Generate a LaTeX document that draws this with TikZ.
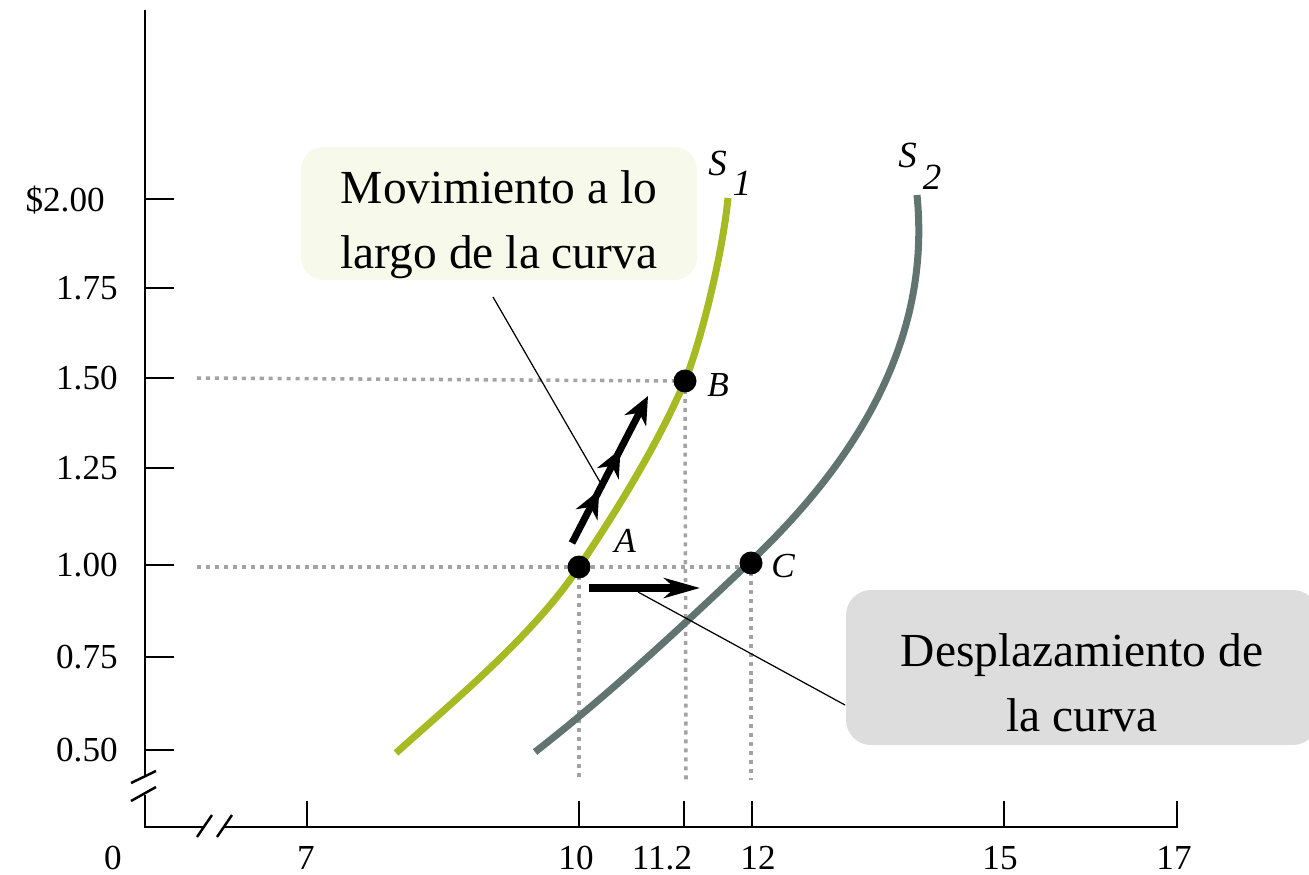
\documentclass[tikz,border=0pt]{standalone}
\usepackage{fontspec}
\setmainfont{Liberation Serif}
\usepackage{xcolor}
\usetikzlibrary{arrows.meta,decorations.markings}
\definecolor{sone}{RGB}{166,186,36}
\definecolor{stwo}{RGB}{98,116,112}
\definecolor{movfill}{RGB}{247,249,234}
\definecolor{despfill}{RGB}{221,221,221}
\definecolor{guidegray}{RGB}{163,163,163}

\begin{document}
\begin{tikzpicture}[
x = 0.02cm, y = -0.02cm,
axisline/.style={line width = 1.4pt, draw = black},
ticklab/.style={inner sep = 0, font = \fontsize{20}{24}\selectfont},
guide/.style={draw = guidegray, line width = 2pt, dash pattern = on 2.3pt off 2.8pt},
supone/.style={line width = 4pt, draw = sone},
suptwo/.style={line width = 4pt, draw = stwo},
ptdot/.style={circle, fill = black, inner sep = 0, minimum size = 0.46cm},
ptlab/.style={inner sep = 0, font = \fontsize{20}{24}\selectfont\itshape},
slab/.style={inner sep = 0, anchor = base west, font = \fontsize{21}{24}\selectfont\itshape},
boxtext/.style={inner sep = 0, anchor = north, align = center, font = \fontsize{27}{37}\selectfont},
movrect/.style={rectangle, fill = movfill, rounded corners = 0.45cm, minimum width = 7.92cm, minimum height = 2.66cm},
desprect/.style={rectangle, fill = despfill, rounded corners = 0.5cm, minimum width = 9.44cm, minimum height = 3.1cm},
leader/.style={line width = 0.7pt, draw = black},
shiftarr/.style={-{Stealth[length = 0.72cm, width = 0.4cm, inset = 0.22cm]}, line width = 4pt},
movearr/.style={-{Stealth[length = 0.55cm, width = 0.48cm, inset = 0.17cm]}, line width = 4pt,
  postaction = {decorate}, decoration = {markings,
  mark = at position 0.36 with {\arrow{Stealth[length = 0.55cm, width = 0.48cm, inset = 0.17cm]}},
  mark = at position 0.64 with {\arrow{Stealth[length = 0.55cm, width = 0.48cm, inset = 0.17cm]}}}}]

\useasboundingbox (0,0) rectangle (1309,875);

\node[movrect] (movbox) at (499,213.5) {};
\node[desprect] (despbox) at (1082,667.5) {};
\node[boxtext] (movtext) at (499,170) {Movimiento a lo\\largo de la curva};
\node[boxtext] (desptext) at (1082,633) {Desplazamiento de\\la curva};

\coordinate (pA) at (579,567);
\coordinate (pB) at (685,381);
\coordinate (pC) at (751,563);
\draw[guide] (197,378) -- (pB);
\draw[guide] (197,567) -- (751,567);
\draw[guide] (pA) -- (579,780);
\draw[guide] (pB) -- (686,780);
\draw[guide] (pC) -- (751,780);

\draw[supone] (396,753) .. controls (456,699) and (534,634.5) .. (pA)
  .. controls (614,514.5) and (655,450) .. (pB)
  .. controls (700,343.5) and (722,258) .. (728,198);
\draw[suptwo] (535,752) .. controls (607,696) and (679,629.4) .. (751,561)
  .. controls (851,466) and (932,345) .. (917,195);

\coordinate (movtail) at (493,297);
\coordinate (movtip) at (600,482);
\draw[leader] (movtail) -- (movtip);
\coordinate (desptail) at (638,592);
\coordinate (despto) at (845,705);
\draw[leader] (desptail) -- (despto);

\coordinate (sh0) at (589,588);
\coordinate (sh1) at (700,588);
\draw[shiftarr] (sh0) -- (sh1);
\coordinate (mv0) at (572,543);
\coordinate (mv1) at (648,396);
\draw[movearr] (mv0) -- (mv1);

\node[ptdot] (A) at (pA) {};
\node[ptdot] (B) at (pB) {};
\node[ptdot] (C) at (pC) {};
\node[ptlab] (labA) at (625,541) {A};
\node[ptlab] (labB) at (718,385) {B};
\node[ptlab] (labC) at (783,566) {C};
\node[slab] (S1) at (708,175) {S\hspace{3.5pt}\raisebox{-11.5pt}{1}};
\node[slab] (S2) at (898,168) {S\hspace{3.5pt}\raisebox{-12.5pt}{2}};

\draw[axisline] (145,10) -- (145,776);
\draw[axisline] (145,795) -- (145,827) -- (204,827);
\draw[axisline] (224,827) -- (1177,827) -- (1177,801);
\draw[axisline] (131,783) -- (156,771);
\draw[axisline] (131,801) -- (156,787);
\draw[axisline] (197,837) -- (212,815);
\draw[axisline] (217,837) -- (232,815);

\foreach \yy/\lab in {288/1.75, 378/1.50, 468/1.25, 565/1.00, 657/0.75, 750/0.50}
{\draw[axisline] (145,\yy) -- (174,\yy);
\node[ticklab, anchor = east] (y\yy) at (118,\yy) {\lab};}
\draw[axisline] (145,199) -- (174,199);
\node[ticklab, anchor = east] (y199) at (105,200) {\$2.00};

\node[ticklab, anchor = north] (x0) at (113,846) {0};
\foreach \xx/\xl/\lab in {307/306/7, 579/576/10, 684/662/11.2, 752/758/12, 1004/1000/15, 1177/1174/17}
{\draw[axisline] (\xx,827) -- (\xx,801);
\node[ticklab, anchor = north] (x\xx) at (\xl,846) {\lab};}

\end{tikzpicture}
\end{document}
